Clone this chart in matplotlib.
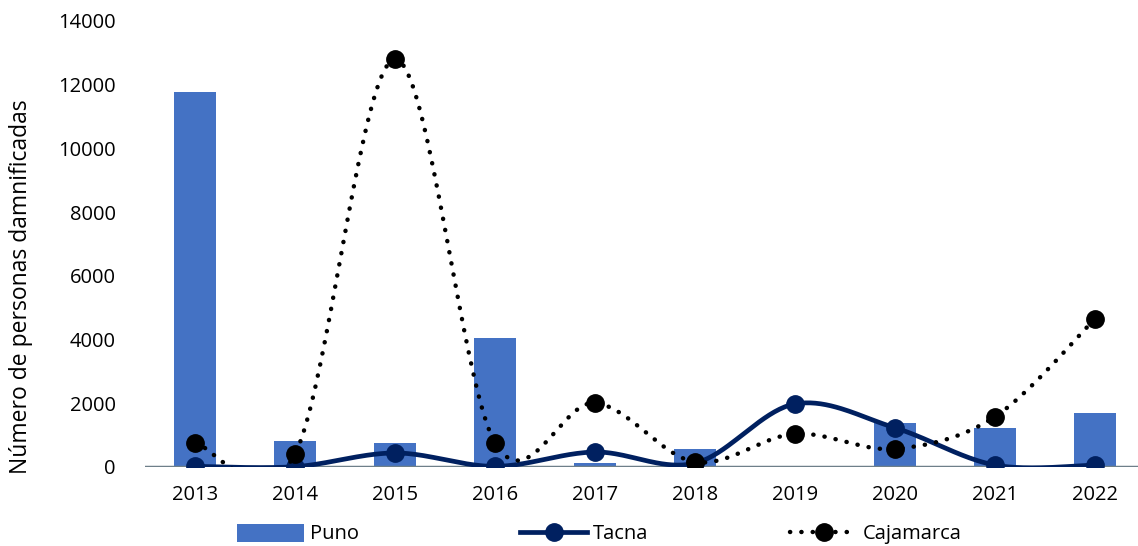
import numpy as np
import matplotlib
matplotlib.use("Agg")
import matplotlib.pyplot as plt
from matplotlib.lines import Line2D
from matplotlib.patches import Patch

years = ["2013", "2014", "2015", "2016", "2017", "2018", "2019", "2020", "2021", "2022"]
puno = [11770, 820, 760, 4050, 120, 560, 40, 1380, 1220, 1700]
tacna = [20, 10, 440, 20, 470, 120, 1980, 1230, 60, 60]
cajamarca = [760, 410, 12800, 760, 2010, 160, 1040, 570, 1580, 4650]
y_ticks = [0, 2000, 4000, 6000, 8000, 10000, 12000, 14000]

plt.rcParams['font.family'] = ['Open Sans', 'DejaVu Sans']

def smooth(xs, ys, n=40):
    # Excel-style smoothing: cubic Bezier with Catmull-Rom control points
    xs = np.asarray(xs, float); ys = np.asarray(ys, float)
    P = np.column_stack([xs, ys])
    out = []
    for i in range(len(P) - 1):
        p0 = P[i - 1] if i > 0 else P[i]
        p1 = P[i]; p2 = P[i + 1]
        p3 = P[i + 2] if i + 2 < len(P) else P[i + 1]
        c1 = p1 + (p2 - p0) / 6.0
        c2 = p2 - (p3 - p1) / 6.0
        t = np.linspace(0, 1, n)[:, None]
        seg = ((1 - t) ** 3) * p1 + 3 * ((1 - t) ** 2) * t * c1 + 3 * (1 - t) * t ** 2 * c2 + t ** 3 * p2
        out.append(seg if i == 0 else seg[1:])
    s = np.vstack(out)
    return s[:, 0], s[:, 1]

fig = plt.figure(figsize=(11.38, 5.46), dpi=100)
ax = fig.add_axes([145 / 1138, 79 / 546, 1 - 145 / 1138, 446 / 546])

x = np.arange(len(years))
bar_color = "#4472C4"
tacna_color = "#002060"
dots = (0, (0.05, 2.5))

ax.bar(x, puno, width=0.42, color=bar_color, zorder=2)

sx, sy = smooth(x, tacna)
ax.plot(sx, sy, color=tacna_color, lw=3.4, zorder=3, solid_capstyle='round')
ax.plot(x, tacna, 'o', color=tacna_color, ms=12.5, zorder=4)

cx, cy = smooth(x, cajamarca)
ax.plot(cx, cy, color='black', lw=3.2, linestyle=dots, dash_capstyle='round', zorder=5)
ax.plot(x, cajamarca, 'o', color='black', ms=12.5, zorder=6)

ax.axhline(0, color='#6E7F89', lw=2.5, zorder=2.5)

ax.set_xlim(-0.5, 9.43)
ax.set_ylim(0, 14000)
ax.set_yticks(y_ticks)
ax.set_yticklabels([str(v) for v in y_ticks])
ax.set_xticks(x)
ax.set_xticklabels(years)
for s in ax.spines.values():
    s.set_visible(False)
ax.tick_params(axis='both', length=0, labelsize=14.5, colors='black')
ax.tick_params(axis='y', pad=21)
ax.tick_params(axis='x', pad=13)
ax.set_ylabel("Número de personas damnificadas", fontsize=16.5)
ax.yaxis.set_label_coords(-112 / 993, 0.405)

fs = 14.5
entries = [
    (Patch(facecolor=bar_color, edgecolor='none'), "Puno", 237),
    (Line2D([], [], color=tacna_color, lw=3.4, marker='o', ms=12.5), "Tacna", 520),
    (Line2D([], [], color='black', lw=3.2, linestyle=dots, dash_capstyle='round', marker='o', ms=12.5), "Cajamarca", 790),
]
for h, lab, px in entries:
    fig.legend([h], [lab], loc='center left', bbox_to_anchor=(px / 1138, 1 - 534 / 546),
               frameon=False, fontsize=fs, handlelength=3.35, handleheight=1.0,
               handletextpad=0.25, borderpad=0, borderaxespad=0)

fig.savefig("out.png", dpi=100)
